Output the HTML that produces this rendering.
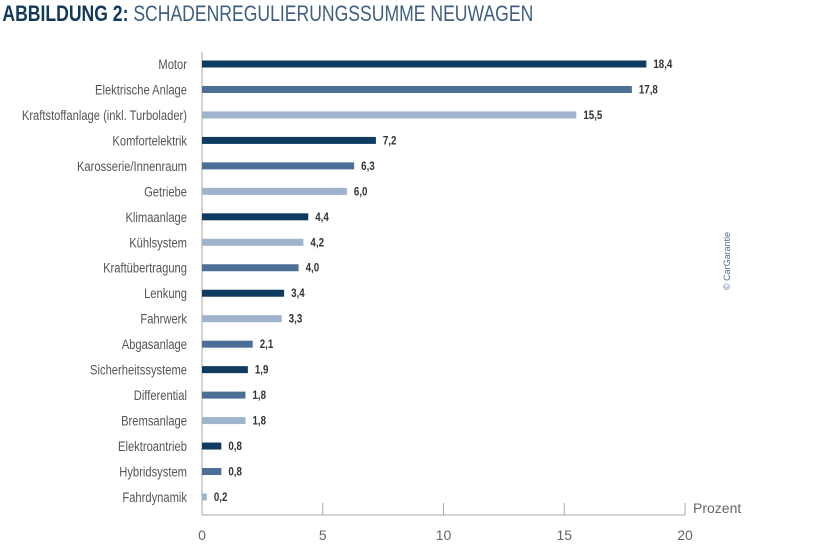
<!DOCTYPE html>
<html><head><meta charset="utf-8"><style>
body{margin:0;background:#fff;}
svg{display:block;font-family:"Liberation Sans",sans-serif;}
</style></head><body>
<svg id="chart" width="816" height="544" viewBox="0 0 816 544" xmlns="http://www.w3.org/2000/svg">
<g transform="scale(0.8,1)">
<text x="3" y="21" font-size="22" fill="#12395c"><tspan font-weight="bold">ABBILDUNG 2:</tspan><tspan fill="#3e5f80"> SCHADENREGULIERUNGSSUMME NEUWAGEN</tspan></text>
</g>
<g id="plot"></g>
<text transform="translate(730,290) rotate(-90)" font-size="9" fill="#4b6f95">© CarGarantie</text>
</svg>
<script>
const categories=["Motor","Elektrische Anlage","Kraftstoffanlage (inkl. Turbolader)","Komfortelektrik","Karosserie/Innenraum","Getriebe","Klimaanlage","Kühlsystem","Kraftübertragung","Lenkung","Fahrwerk","Abgasanlage","Sicherheitssysteme","Differential","Bremsanlage","Elektroantrieb","Hybridsystem","Fahrdynamik"];
const values=[18.4,17.8,15.5,7.2,6.3,6.0,4.4,4.2,4.0,3.4,3.3,2.1,1.9,1.8,1.8,0.8,0.8,0.2];
const shades=["d","m","l","d","m","l","d","l","m","d","l","m","d","m","l","d","m","l"];
const ticks=[0,5,10,15,20];
const colors={d:"#0f3b60",m:"#4b6f95",l:"#9fb3cc"};
const NS="http://www.w3.org/2000/svg";
const g=document.getElementById('plot');
const x=v=>202+v*24.15;
const y=i=>64+i*25.47;
function mk(t,a){const e=document.createElementNS(NS,t);for(const k in a)e.setAttribute(k,a[k]);g.appendChild(e);return e;}
let ax=mk('line',{x1:202,y1:52,x2:202,y2:515,stroke:"#aaa","stroke-width":1});


let bx=mk('line',{x1:202,y1:515,x2:x(20),y2:515,stroke:"#aaa","stroke-width":1});


ticks.forEach(t=>{
 let l=mk('line',{x1:x(t),y1:503,x2:x(t),y2:515,stroke:"#aaa","stroke-width":1});
 
 
 let tx=mk('text',{x:x(t),y:540,"text-anchor":"middle","font-size":14,fill:"#666"});
 tx.textContent=String(t);
 
 
});
let pz=mk('text',{x:693,y:513,"font-size":14,fill:"#666"});
pz.textContent="Prozent";


categories.forEach((c,i)=>{
 const yy=y(i);
 let lab=mk('text',{x:187/0.8,y:yy+5,"text-anchor":"end","font-size":14,fill:"#555",transform:"scale(0.8,1)"});
 lab.textContent=c;
 
 
 let r=mk('rect',{x:202,y:yy-3.5,width:x(values[i])-202,height:7,fill:colors[shades[i]]});
 
 
 let v=mk('text',{x:(x(values[i])+7)/0.85,y:yy+4,"font-size":11.5,"font-weight":"bold",fill:"#333",transform:"scale(0.85,1)"});
 v.textContent=values[i].toFixed(1).replace('.',',');
 
 
});
</script>
</body></html>
